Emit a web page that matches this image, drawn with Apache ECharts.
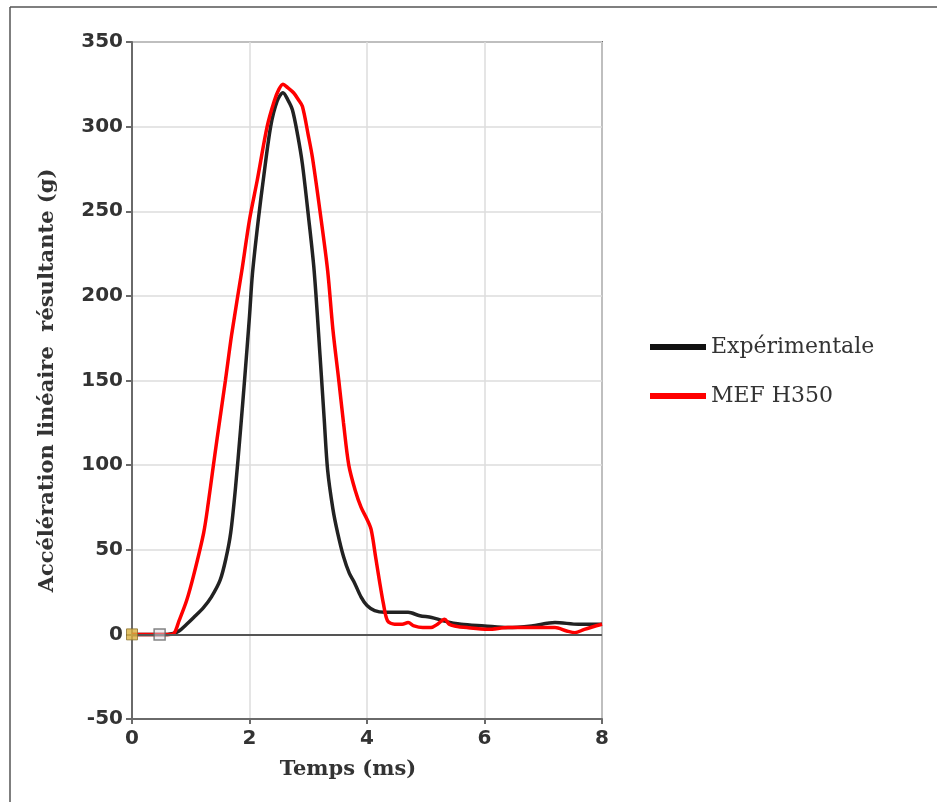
<!DOCTYPE html>
<html>
<head>
<meta charset="utf-8">
<script src="https://cdn.jsdelivr.net/npm/echarts@6/dist/echarts.min.js"></script>
<style>
html,body{margin:0;padding:0;background:#fff;}
#chart{width:937px;height:802px;}
</style>
</head>
<body>
<div id="chart"></div>
<script>
// Experimentale
var timeExp  = [0, 0.3, 0.6, 0.7, 0.8, 0.93, 1.05, 1.22, 1.35, 1.5, 1.6, 1.68, 1.76, 1.85, 1.92, 2.0, 2.05, 2.15, 2.24, 2.36, 2.47, 2.57, 2.65, 2.73, 2.82, 2.9, 3.0, 3.1, 3.2, 3.27, 3.33, 3.42, 3.5, 3.6, 3.7, 3.78, 3.9, 4.0, 4.13, 4.3, 4.5, 4.7, 4.9, 5.1, 5.3, 5.6, 6.0, 6.4, 6.8, 7.2, 7.6, 8.0];
var accelExp = [0, 0, 0, 0.5, 2, 6, 10, 16, 22, 32, 45, 60, 86, 122, 152, 188, 213, 245, 270, 300, 315, 320, 316, 310, 295, 278, 248, 215, 165, 128, 97, 74, 60, 46, 36, 31, 22, 17, 14, 13, 13, 13, 11, 10, 8, 6, 5, 4, 5, 7, 6, 6];
// MEF H350
var timeMef  = [0, 0.3, 0.6, 0.71, 0.8, 0.93, 1.05, 1.22, 1.3, 1.37, 1.45, 1.59, 1.7, 1.87, 2.0, 2.13, 2.3, 2.42, 2.5, 2.57, 2.65, 2.75, 2.83, 2.9, 3.0, 3.07, 3.2, 3.33, 3.42, 3.52, 3.6, 3.69, 3.8, 3.9, 4.0, 4.07, 4.15, 4.21, 4.28, 4.35, 4.47, 4.6, 4.7, 4.8, 4.95, 5.09, 5.2, 5.32, 5.4, 5.49, 5.7, 6.06, 6.4, 6.8, 7.2, 7.4, 7.54, 7.7, 8.0];
var accelMef = [0, 0, 0, 0.5, 8, 20, 35, 60, 78, 96, 116, 150, 178, 215, 245, 268, 300, 315, 322, 325, 323, 320, 316, 312, 295, 282, 250, 215, 180, 150, 125, 100, 85, 75, 68, 62, 45, 32, 18, 8, 6, 6, 7, 5, 4, 4, 6, 9, 6, 5, 4, 3, 4, 4, 4, 2, 1, 3, 6];
// start markers
var markerT = [0, 0.47];
var markerV = [0, 0];

var xTicks = [0, 2, 4, 6, 8];
var yTicks = [-50, 0, 50, 100, 150, 200, 250, 300, 350];

function pairs(t, v){ return t.map(function(x,i){ return [x, v[i]]; }); }

var chart = echarts.init(document.getElementById('chart'), null, {renderer:'canvas'});
chart.setOption({
  animation: false,
  backgroundColor: '#fff',
  grid: {left: 132, right: 335, top: 42, bottom: 83, show: true, borderColor: '#6a6a6a', borderWidth: 2, backgroundColor: 'transparent'},
  legend: {
    orient: 'vertical', left: 645, top: 331, itemGap: 27,
    itemWidth: 56, itemHeight: 6, icon: 'rect',
    textStyle: {fontFamily: 'DejaVu Serif', fontSize: 22, color: '#333'},
    data: ['Expérimentale', 'MEF H350']
  },
  xAxis: {
    type: 'value', min: xTicks[0], max: xTicks[xTicks.length-1], interval: 2,
    name: 'Temps (ms)', nameLocation: 'middle', nameGap: 40,
    nameTextStyle: {fontFamily: 'DejaVu Serif', fontWeight: 'bold', fontSize: 21, color: '#333', padding: [0, 38, 0, 0]},
    axisLine: {show: true, lineStyle: {color: '#6a6a6a', width: 2}, onZero: false},
    axisTick: {show: true, length: 5, lineStyle: {color: '#6a6a6a', width: 2}},
    axisLabel: {fontFamily: 'DejaVu Sans', fontWeight: 'bold', fontSize: 20, color: '#333', margin: 10},
    splitLine: {show: true, lineStyle: {color: '#ddd', width: 1.5}}
  },
  yAxis: {
    type: 'value', min: yTicks[0], max: yTicks[yTicks.length-1], interval: 50,
    name: 'Accélération linéaire  résultante (g)', nameLocation: 'middle', nameGap: 74, nameRotate: 90,
    nameTextStyle: {fontFamily: 'DejaVu Serif', fontWeight: 'bold', fontSize: 21, color: '#333'},
    axisLine: {show: true, lineStyle: {color: '#6a6a6a', width: 2}, onZero: false},
    axisTick: {show: true, length: 6, lineStyle: {color: '#6a6a6a', width: 2}},
    axisLabel: {fontFamily: 'DejaVu Sans', fontWeight: 'bold', fontSize: 20, color: '#333', margin: 9},
    splitLine: {show: true, lineStyle: {color: '#ddd', width: 1.5}}
  },
  series: [
    {
      name: 'Expérimentale', type: 'line', data: pairs(timeExp, accelExp),
      showSymbol: false, symbol: 'none', smooth: 0.3,
      lineStyle: {color: '#222', width: 3.5}, itemStyle: {color: '#111'},
      z: 3,
      markLine: {
        silent: true, symbol: ['none','none'], label: {show: false},
        lineStyle: {color: '#555', width: 2, type: 'solid'},
        data: [{yAxis: 0}]
      }
    },
    {
      name: 'MEF H350', type: 'line', data: pairs(timeMef, accelMef),
      showSymbol: false, symbol: 'none', smooth: 0.3,
      lineStyle: {color: '#ff0000', width: 3.5}, itemStyle: {color: '#ff0000'},
      z: 4
    },
    {
      name: 'markers', type: 'scatter', symbol: 'rect', symbolSize: 11,
      data: [
        {value: [markerT[0], markerV[0]], itemStyle: {color: '#d9b040', borderColor: '#8a7030', borderWidth: 1}},
        {value: [markerT[1], markerV[1]], itemStyle: {color: 'rgba(220,220,230,0.6)', borderColor: '#666', borderWidth: 1.5}}
      ],
      z: 5, silent: true
    }
  ],
  graphic: [
    {type: 'line', shape: {x1: 10, y1: 7, x2: 937, y2: 7}, style: {stroke: '#555', lineWidth: 1.5}, silent: true},
    {type: 'line', shape: {x1: 10, y1: 7, x2: 10, y2: 802}, style: {stroke: '#555', lineWidth: 1.5}, silent: true}
  ]
});
</script>
</body>
</html>
